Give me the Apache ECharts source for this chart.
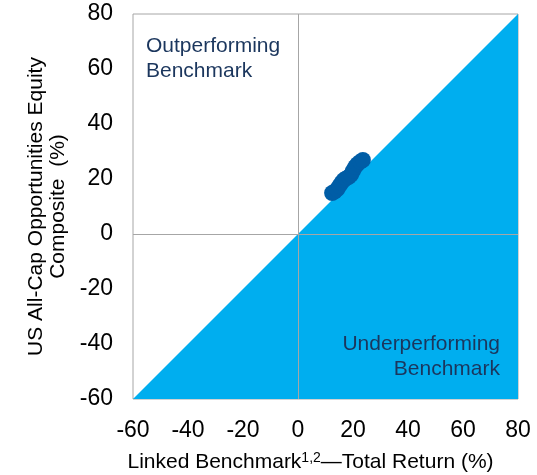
<!DOCTYPE html>
<html><head><meta charset="utf-8">
<script src="https://cdn.jsdelivr.net/npm/echarts@6/dist/echarts.min.js"></script>
<style>html,body{margin:0;padding:0;background:#fff}#c{width:537px;height:475px}</style>
</head><body><div id="c"></div>
<script>
const xTicks = [-60,-40,-20,0,20,40,60,80];
const yTicks = [-60,-40,-20,0,20,40,60,80];
const benchmarkReturn = [12.4,13.3,14.2,15.0,15.8,16.6,17.5,18.5,19.3,20.0,20.8,21.6,22.6,23.6];
const compositeReturn = [14.9,15.4,16.2,17.4,18.6,19.6,20.2,20.8,21.6,23.0,24.4,25.4,26.2,26.9];
const diagonal = [[-60,-60],[80,80]];
const FONT = 'Liberation Sans, Arial, sans-serif';
const chart = echarts.init(document.getElementById('c'));
chart.setOption({
  animation:false,
  grid:{left:133,right:19,top:14,bottom:76,show:true,borderColor:'#a6a6a6',borderWidth:1,outerBoundsMode:'none',containLabel:false},
  xAxis:{type:'value',min:-60,max:80,interval:20,
    name:'{a|Linked Benchmark}{s|1,2}{a|—Total Return (%)}',nameLocation:'middle',nameGap:52,
    nameTextStyle:{padding:[0,30,0,0],rich:{a:{fontSize:21,fontFamily:FONT,color:'#000'},s:{fontSize:14,fontFamily:FONT,color:'#000',verticalAlign:'top',padding:[0,0,9,0]}}},
    axisLine:{show:false},axisTick:{show:false},splitLine:{show:false},
    axisLabel:{fontSize:23,fontFamily:FONT,color:'#000',margin:20,formatter:v=>xTicks.includes(v)?String(v):''}},
  yAxis:{type:'value',min:-60,max:80,interval:20,
    name:'US All-Cap Opportunities Equity\nComposite  (%)',nameLocation:'middle',nameGap:61,nameRotate:90,
    nameTextStyle:{fontSize:21,fontFamily:FONT,color:'#000',lineHeight:22},
    axisLine:{show:false},axisTick:{show:false},splitLine:{show:false},
    axisLabel:{fontSize:23,fontFamily:FONT,color:'#000',margin:20,formatter:v=>yTicks.includes(v)?String(v):''}},
  series:[
    {type:'line',data:diagonal,symbol:'none',lineStyle:{width:0},
     areaStyle:{color:'#00aeef',opacity:1,origin:'start'},z:1,
     markLine:{silent:true,symbol:'none',label:{show:false},lineStyle:{color:'#a6a6a6',width:1,type:'solid'},
       data:[{xAxis:0},{yAxis:0}]}},
    {type:'scatter',data:benchmarkReturn.map((v,i)=>[v,compositeReturn[i]]),symbolSize:16,
     itemStyle:{color:'#005da6',opacity:1},z:5}
  ],
  graphic:[
    {type:'text',left:146,top:34,z:10,style:{text:'Outperforming\nBenchmark',font:'21px '+FONT,fill:'#1b365d',lineHeight:25}},
    {type:'text',x:500,y:332,z:10,style:{text:'Underperforming\nBenchmark',font:'21px '+FONT,fill:'#1b365d',lineHeight:25,align:'right',verticalAlign:'top'}}
  ]
});
</script></body></html>
